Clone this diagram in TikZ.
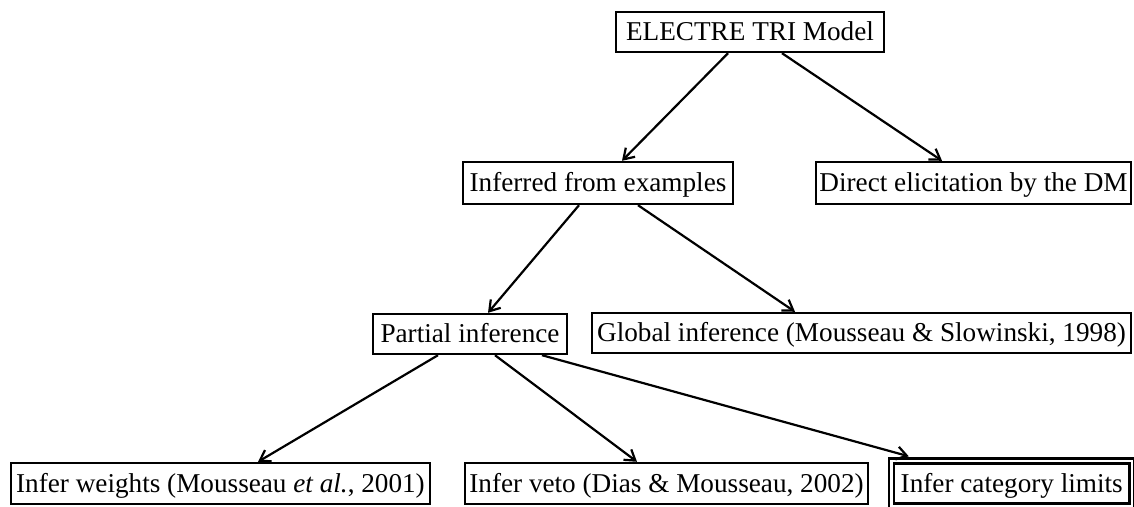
\documentclass[tikz,border=0pt]{standalone}
\usepackage{fontspec}
\setmainfont{Liberation Serif}
\usetikzlibrary{arrows.meta}
\tikzset{
  box/.style={draw, line width=1.2pt, inner sep=0pt, rectangle,
    font=\fontsize{13.6}{16}\selectfont, text height=9.6pt, text depth=1pt},
  dbox/.style={box, double, double distance=1.4pt},
  arr/.style={line width=1.1pt, -{Straight Barb[length=5pt,width=6.5pt]}}
}
\begin{document}
\begin{tikzpicture}[x=0.5pt,y=-0.5pt]
\useasboundingbox[fill=white] (0,0) rectangle (1134,507);
\node[box, minimum width=134pt, minimum height=20pt] (electre) at (750,32) {ELECTRE TRI Model};
\node[box, minimum width=135pt, minimum height=21pt] (inferred) at (598,183) {Inferred from examples};
\node[box, minimum width=157.5pt, minimum height=21pt] (direct) at (973.5,183) {Direct elicitation by the DM};
\node[box, minimum width=97pt, minimum height=20pt] (partial) at (470,334) {Partial inference};
\node[box, minimum width=269.5pt, minimum height=20pt] (global) at (861.5,333) {Global inference (Mousseau \& Slowinski, 1998)};
\node[box, minimum width=209.5pt, minimum height=20.5pt] (weights) at (220.5,483.5) {Infer weights (Mousseau \textit{et al.}, 2001)};
\node[box, minimum width=201.5pt, minimum height=20.5pt] (veto) at (666.5,483.5) {Infer veto (Dias \& Mousseau, 2002)};
\node[dbox, minimum width=120.25pt, minimum height=22.5pt] (cat) at (1011.75,483.5) {Infer category limits};

\draw[arr] ([xshift=-11pt]electre.south) -- ([xshift=12pt]inferred.north);
\draw[arr] ([xshift=16pt]electre.south) -- ([xshift=-15.75pt]direct.north);
\draw[arr] ([xshift=-9.5pt]inferred.south) -- ([xshift=9pt]partial.north);
\draw[arr] ([xshift=20pt]inferred.south) -- ([xshift=-33.25pt]global.north);
\draw[arr] ([xshift=-16pt]partial.south) -- ([xshift=18.75pt]weights.north);
\draw[arr] ([xshift=12.5pt]partial.south) -- ([xshift=-14.75pt]veto.north);
\draw[arr] ([xshift=36pt]partial.south) -- ([xshift=-51.5pt,yshift=1.75pt]cat.north);
\end{tikzpicture}
\end{document}
